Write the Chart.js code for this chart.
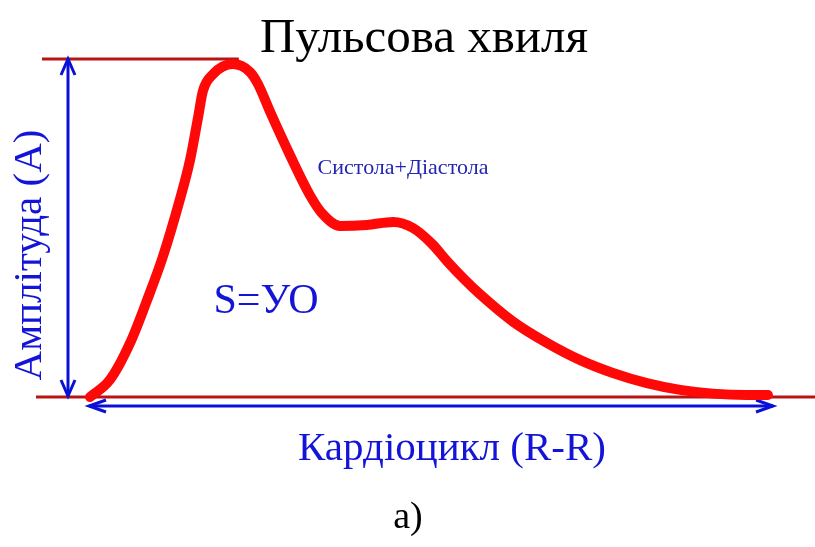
<!DOCTYPE html>
<html>
<head>
<meta charset="utf-8">
<script src="https://cdn.jsdelivr.net/npm/chart.js@4.4.1/dist/chart.umd.min.js"></script>
<style>
  html, body { margin: 0; padding: 0; background: #ffffff; }
  #wrap { width: 815px; height: 547px; position: relative; }
</style>
</head>
<body>
<div id="wrap"><canvas id="c"></canvas></div>
<script>
// Pulse wave over one cardiac cycle: time as % of the R-R interval, amplitude as a fraction of A
const cyclePct = [0, 2.9, 5.9, 8.4, 10.7, 13.2, 14.7, 15.9, 16.6, 18.1, 21.0, 23.5, 24.7, 26.5, 29.4, 32.4, 34.1, 36.8, 40.7, 44.6, 47.5, 50.3, 52.5, 55.0, 57.4, 62.2, 67.2, 72.1, 76.9, 81.9, 86.8, 91.6, 96.6, 99.7];
const amplitude = [0, 0.05, 0.16, 0.287, 0.414, 0.583, 0.70, 0.828, 0.905, 0.955, 0.985, 0.962, 0.926, 0.843, 0.716, 0.595, 0.544, 0.506, 0.509, 0.518, 0.50, 0.453, 0.402, 0.349, 0.303, 0.223, 0.160, 0.109, 0.071, 0.041, 0.021, 0.010, 0.006, 0.006];

const titleText = 'Пульсова хвиля';
const yLabel = 'Амплітуда (А)';
const xLabel = 'Кардіоцикл (R-R)';
const phaseLabel = 'Систола+Діастола';
const areaLabel = 'S=УО';
const captionText = 'а)';

const points = cyclePct.map((x, i) => ({ x: x, y: amplitude[i] }));

function arrowHead(ctx, tipX, tipY, dx, dy, len, half) {
  // dx,dy: unit vector pointing from the tip back along the shaft
  const px = -dy, py = dx;
  ctx.beginPath();
  ctx.moveTo(tipX + dx * len + px * half, tipY + dy * len + py * half);
  ctx.lineTo(tipX, tipY);
  ctx.lineTo(tipX + dx * len - px * half, tipY + dy * len - py * half);
  ctx.stroke();
}

const annotations = {
  id: 'annotations',
  beforeDatasetsDraw(chart) {
    const { ctx, scales: { x, y } } = chart;
    const y0 = y.getPixelForValue(0);
    const y1 = y.getPixelForValue(1);
    const x0 = x.getPixelForValue(0);
    const x1 = x.getPixelForValue(100);
    const peakIdx = amplitude.indexOf(Math.max(...amplitude));
    const xPeak = x.getPixelForValue(cyclePct[peakIdx]);
    ctx.save();
    ctx.lineCap = 'butt';
    // amplitude reference lines
    ctx.strokeStyle = '#b81414';
    ctx.lineWidth = 3;
    ctx.beginPath();
    ctx.moveTo(42, y1); ctx.lineTo(xPeak + 6, y1);
    ctx.moveTo(36, y0); ctx.lineTo(chart.width, y0);
    ctx.stroke();
    // amplitude double arrow
    ctx.strokeStyle = '#0a10d8';
    ctx.lineWidth = 3;
    const ax = x0 - 22;
    ctx.beginPath();
    ctx.moveTo(ax, y1); ctx.lineTo(ax, y0 - 1);
    ctx.stroke();
    arrowHead(ctx, ax, y1, 0, 1, 16, 7);
    arrowHead(ctx, ax, y0 - 1, 0, -1, 16, 7);
    // cardiac cycle double arrow
    const ay = y0 + 9;
    ctx.beginPath();
    ctx.moveTo(x0 - 1, ay); ctx.lineTo(x1 + 3, ay);
    ctx.stroke();
    arrowHead(ctx, x0 - 1, ay, 1, 0, 17, 6);
    arrowHead(ctx, x1 + 3, ay, -1, 0, 17, 6);
    ctx.restore();
  },
  afterDraw(chart) {
    const { ctx } = chart;
    ctx.save();
    ctx.textAlign = 'center';
    ctx.textBaseline = 'alphabetic';
    // title
    ctx.fillStyle = '#000000';
    ctx.font = '49px "Liberation Serif"';
    ctx.fillText(titleText, 424, 52);
    // caption
    ctx.font = '38px "Liberation Serif"';
    ctx.fillText(captionText, 408, 528);
    // axis descriptions
    ctx.fillStyle = '#1414d8';
    ctx.font = '41px "Liberation Serif"';
    ctx.fillText(xLabel, 452, 460);
    ctx.save();
    ctx.translate(41, 255);
    ctx.rotate(-Math.PI / 2);
    ctx.fillText(yLabel, 0, 0);
    ctx.restore();
    // inner labels
    ctx.font = '42px "Liberation Serif"';
    ctx.fillText(areaLabel, 266, 313);
    ctx.fillStyle = '#2424b4';
    ctx.font = '22px "Liberation Serif"';
    ctx.fillText(phaseLabel, 403, 174);
    ctx.restore();
  }
};

new Chart(document.getElementById('c'), {
  type: 'line',
  data: {
    datasets: [{
      data: points,
      borderColor: '#ff0808',
      borderWidth: 10,
      borderCapStyle: 'round',
      borderJoinStyle: 'round',
      pointRadius: 0,
      cubicInterpolationMode: 'monotone',
      fill: false,
      clip: false
    }]
  },
  options: {
    responsive: true,
    maintainAspectRatio: false,
    animation: false,
    layout: { padding: { left: 90, right: 45, top: 59, bottom: 150 } },
    plugins: { legend: { display: false }, tooltip: { enabled: false }, title: { display: false } },
    scales: {
      x: { type: 'linear', min: 0, max: 100, display: false },
      y: { type: 'linear', min: 0, max: 1, display: false }
    }
  },
  plugins: [annotations]
});
</script>
</body>
</html>
